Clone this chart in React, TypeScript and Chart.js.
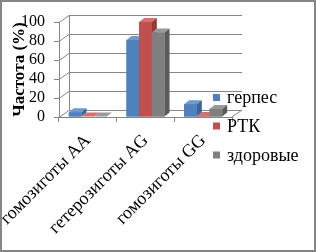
import React, { useEffect, useRef } from "react";
import { Chart, registerables } from "chart.js";

Chart.register(...registerables);

const categories = ["гомозиготы AA", "гетерозиготы AG", "гомозиготы GG"];
const seriesNames = ["герпес", "РТК", "здоровые"];
const herpes = [5, 81, 13.5];
const rtk = [0.5, 100, 1];
const healthy = [0.5, 89, 8.5];
const yTicks = [0, 20, 40, 60, 80, 100];

const FONT = "Liberation Serif";
const front = ["#4F81BD", "#C0504D", "#7F7F7F"];
const tops = ["#7199CC", "#D07270", "#9A9A9A"];
const sides = ["#3A6496", "#943B39", "#5A5A5A"];
const GRID = "#868686";

const wallPlugin = {
  id: "wall3d",
  beforeDatasetsDraw(chart: any) {
    const { ctx, chartArea, scales } = chart;
    const y = scales.y;
    const dx = 10, dy = 7;
    ctx.save();
    ctx.strokeStyle = GRID;
    ctx.lineWidth = 1;
    ctx.beginPath();
    yTicks.forEach((v) => {
      const py = Math.round(y.getPixelForValue(v)) + 0.5;
      ctx.moveTo(chartArea.left, py);
      ctx.lineTo(chartArea.left + dx, py - dy);
      ctx.lineTo(chartArea.right + dx, py - dy);
    });
    const bx = Math.round(chartArea.left + dx) + 0.5;
    ctx.moveTo(bx, y.getPixelForValue(0) - dy);
    ctx.lineTo(bx, y.getPixelForValue(100) - dy);
    ctx.moveTo(chartArea.right, chartArea.bottom);
    ctx.lineTo(chartArea.right + dx, chartArea.bottom - dy);
    ctx.stroke();
    ctx.restore();
  },
  afterDatasetsDraw(chart: any) {
    const { ctx } = chart;
    const dx = 5, dy = 4;
    ctx.save();
    chart.data.datasets.forEach((_: any, i: number) => {
      const meta = chart.getDatasetMeta(i);
      meta.data.forEach((el: any) => {
        const { x, y, base, width } = el.getProps(["x", "y", "base", "width"], true);
        const l = x - width / 2, r = x + width / 2;
        ctx.fillStyle = tops[i];
        ctx.beginPath();
        ctx.moveTo(l, y);
        ctx.lineTo(l + dx, y - dy);
        ctx.lineTo(r + dx, y - dy);
        ctx.lineTo(r, y);
        ctx.closePath();
        ctx.fill();
        ctx.fillStyle = sides[i];
        ctx.beginPath();
        ctx.moveTo(r, y);
        ctx.lineTo(r + dx, y - dy);
        ctx.lineTo(r + dx, base - dy);
        ctx.lineTo(r, base);
        ctx.closePath();
        ctx.fill();
        ctx.fillStyle = front[i];
        ctx.fillRect(l, y, width, base - y);
      });
    });
    ctx.restore();
  },
  afterDraw(chart: any) {
    const { ctx, width, height } = chart;
    ctx.save();
    const lx = 213, ly = [97.5, 126, 155];
    ctx.font = `18px "${FONT}", serif`;
    ctx.textBaseline = "middle";
    ctx.textAlign = "left";
    chart.data.datasets.forEach((ds: any, i: number) => {
      ctx.fillStyle = front[i];
      ctx.fillRect(lx, ly[i] - 3.5, 7, 7);
      ctx.fillStyle = "#000";
      ctx.fillText(ds.label, lx + 14, ly[i] + 1);
    });
    ctx.strokeStyle = "#868686";
    ctx.lineWidth = 2;
    ctx.strokeRect(1, 1, width - 2, height - 2);
    ctx.restore();
  },
};

export default function App() {
  const ref = useRef<HTMLCanvasElement>(null);
  useEffect(() => {
    const chart = new Chart(ref.current!, {
      type: "bar",
      data: {
        labels: categories,
        datasets: [
          { label: seriesNames[0], data: herpes, backgroundColor: front[0] },
          { label: seriesNames[1], data: rtk, backgroundColor: front[1] },
          { label: seriesNames[2], data: healthy, backgroundColor: front[2] },
        ],
      },
      options: {
        responsive: false,
        animation: false,
        devicePixelRatio: 1,
        layout: { padding: { left: 0, right: 84, top: 22, bottom: 0 } },
        datasets: { bar: { categoryPercentage: 0.66, barPercentage: 1 } },
        plugins: { legend: { display: false }, tooltip: { enabled: false } },
        scales: {
          x: {
            offset: true,
            afterFit: (s: any) => { s.paddingLeft = 0; s.paddingRight = 0; s.height = 135; },
            grid: { display: true, drawOnChartArea: false, offset: true, tickLength: 5, color: GRID },
            border: { color: GRID },
            ticks: { minRotation: 45, maxRotation: 45, autoSkip: false, color: "#000", font: { family: FONT, size: 18 }, padding: 8 },
          },
          y: {
            min: 0,
            max: 100,
            afterBuildTicks: (s: any) => { s.ticks = yTicks.map((v) => ({ value: v })); },
            afterFit: (s: any) => { s.width = 59; s.paddingTop = 0; s.paddingBottom = 0; },
            grid: { display: true, drawOnChartArea: false, tickLength: 5, color: GRID },
            border: { color: GRID },
            ticks: { autoSkip: false, color: "#000", font: { family: FONT, size: 16 }, padding: 9 },
            title: { display: true, text: "Частота (%)", color: "#000", font: { family: FONT, size: 17, weight: "bold" }, padding: { top: 9, bottom: 0 } },
          },
        },
      },
      plugins: [wallPlugin],
    });
    if ((document as any).fonts) {
      Promise.all([
        document.fonts.load(`18px "${FONT}"`, "герпес"),
        document.fonts.load(`bold 17px "${FONT}"`, "Частота"),
      ]).then(() => chart.update()).catch(() => {});
    }
    return () => chart.destroy();
  }, []);
  return (
    <div style={{ position: "fixed", left: 0, top: 0, width: 316, height: 252, background: "#fff" }}>
      <canvas ref={ref} width={316} height={252} />
    </div>
  );
}
